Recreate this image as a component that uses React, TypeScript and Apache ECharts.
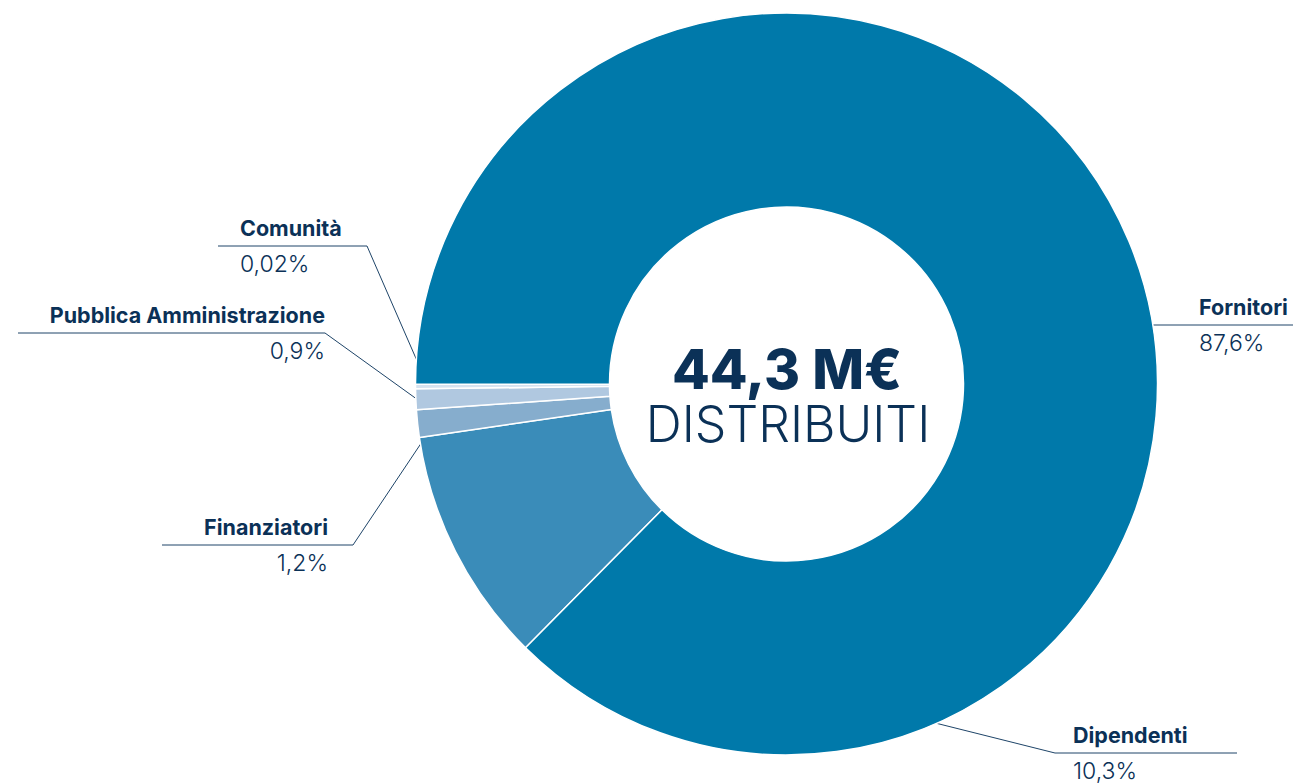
import React, { useEffect, useRef } from "react";
import * as echarts from "echarts";

const categories = ["Dipendenti", "Finanziatori", "Pubblica Amministrazione", "Comunità", "Fornitori"];
const values = [10.3, 1.2, 0.9, 0.02, 87.6];
const percentLabels = ["10,3%", "1,2%", "0,9%", "0,02%", "87,6%"];
const colors = ["#3A8CB9", "#86ADCD", "#B0C8E0", "#D5E2EF", "#0079AA"];
const totalLabel = "44,3 M€";
const subLabel = "DISTRIBUITI";

// label layout: [x, y(underline), align, line points]
const layouts: any[] = [
  { x: 1073, y: 753, align: "left", pts: [[512, 617], [1055, 753], [1237, 753]] },
  { x: 328, y: 545, align: "right", pts: [[436, 421], [353, 545], [162, 545]] },
  { x: 325, y: 333, align: "right", pts: [[425, 405], [325, 333], [18, 333]] },
  { x: 240, y: 246, align: "left", pts: [[428, 386], [367, 246], [218, 246]] },
  { x: 1199, y: 325, align: "left", pts: [[1088, 325], [1190, 325], [1300, 325]] },
];

const NAVY = "#0B3157";
const FONT = "Inter, 'Noto Sans', sans-serif";

export default function App() {
  const ref = useRef<HTMLDivElement>(null);
  useEffect(() => {
    const chart = echarts.init(ref.current!, undefined, { renderer: "svg" });
    chart.setOption({
      animation: false,
      series: [
        {
          type: "pie",
          center: [786.5, 384],
          radius: [177, 371],
          startAngle: 225.3,
          clockwise: true,
          minAngle: 0.7,
          avoidLabelOverlap: false,
          itemStyle: { borderColor: "#ffffff", borderWidth: 1.5 },
          data: categories.map((c, i) => ({
            name: c,
            value: values[i],
            itemStyle: { color: colors[i] },
          })),
          label: {
            show: true,
            fontFamily: FONT,
            formatter: (p: any) => `{n|${p.name}}\n{p|${percentLabels[p.dataIndex]}}`,
            rich: {
              n: { fontFamily: FONT, fontWeight: 700, fontSize: 21.5, color: NAVY, lineHeight: 36 },
              p: { fontFamily: FONT, fontWeight: 300, fontSize: 23, color: NAVY, lineHeight: 36 },
            },
          },
          labelLine: { show: true, lineStyle: { color: "#1E4468", width: 1 } },
          labelLayout: (params: any) => {
            const l = layouts[params.dataIndex];
            return {
              x: l.x,
              y: l.y,
              align: l.align,
              verticalAlign: "middle",
              labelLinePoints: l.pts,
            };
          },
          emphasis: { disabled: true },
        },
      ],
      graphic: [
        {
          type: "text",
          style: {
            text: totalLabel,
            x: 787,
            y: 369,
            align: "center",
            verticalAlign: "middle",
            fontFamily: FONT,
            fontWeight: 800,
            fontSize: 55,
            lineHeight: 52,
            fill: NAVY,
          },
        },
        {
          type: "text",
          style: {
            text: subLabel,
            x: 788,
            y: 424,
            align: "center",
            verticalAlign: "middle",
            fontFamily: FONT,
            fontWeight: 300,
            fontSize: 50,
            lineHeight: 50,
            fill: NAVY,
          },
        },
      ],
    });
    return () => chart.dispose();
  }, []);
  return (
    <div
      ref={ref}
      style={{ position: "fixed", left: 0, top: 0, width: 1293, height: 783, background: "#fff" }}
    />
  );
}
